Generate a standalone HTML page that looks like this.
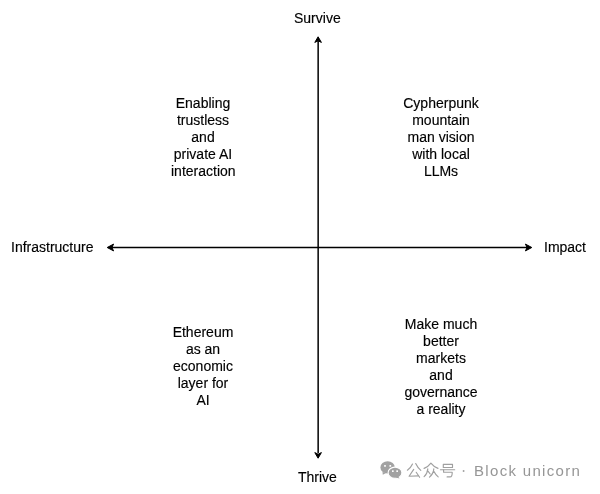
<!DOCTYPE html>
<html><head><meta charset="utf-8">
<style>
html,body{margin:0;padding:0;background:#fff;width:600px;height:494px;overflow:hidden;}
body{position:relative;font-family:"Liberation Sans",sans-serif;font-size:14px;color:#000;}
.t{position:absolute;will-change:transform;-webkit-text-stroke:0.15px currentColor;white-space:nowrap;line-height:17px;text-align:center;}
svg{position:absolute;left:0;top:0;}
</style></head><body>
<svg width="600" height="494" viewBox="0 0 600 494">
  <g stroke="#000" stroke-width="1.5" fill="none">
    <line x1="318.15" y1="41" x2="318.15" y2="453"/>
    <line x1="112" y1="247.5" x2="527" y2="247.5"/>
  </g>
  <g fill="#000" stroke="#000" stroke-width="1" stroke-linejoin="miter">
    <path d="M318.1 36.8 L321.4 42.4 L318.1 40.8 L314.8 42.4 Z"/>
    <path d="M318.1 458.2 L321.4 452.6 L318.1 454.2 L314.8 452.6 Z"/>
    <path d="M107.2 247.5 L113.6 244.1 L111.9 247.5 L113.6 250.9 Z"/>
    <path d="M531.8 247.5 L525.4 244.1 L527.1 247.5 L525.4 250.9 Z"/>
  </g>
</svg>
<div class="t" style="left:294px;top:10px;">Survive</div>
<div class="t" style="left:298px;top:469px;">Thrive</div>
<div class="t" style="left:11px;top:239px;">Infrastructure</div>
<div class="t" style="left:543.6px;top:239px;">Impact</div>
<div class="t" style="left:171px;top:95.3px;width:64px;">Enabling<br>trustless<br>and<br>private AI<br>interaction</div>
<div class="t" style="left:401px;top:95.3px;width:80px;">Cypherpunk<br>mountain<br>man vision<br>with local<br>LLMs</div>
<div class="t" style="left:170px;top:324.3px;width:66px;">Ethereum<br>as an<br>economic<br>layer for<br>AI</div>
<div class="t" style="left:404px;top:316.2px;width:74px;">Make much<br>better<br>markets<br>and<br>governance<br>a reality</div>
<svg width="600" height="494" viewBox="0 0 600 494">
  <g fill="#a2a2a2">
    <ellipse cx="387.6" cy="467.4" rx="7.2" ry="6.2"/>
    <path d="M382.5 472 L382.8 474.8 L386.5 472.8 Z"/>
    <ellipse cx="395" cy="472.7" rx="6.9" ry="5.6" stroke="#fff" stroke-width="1.1"/>
    <path d="M398 476.5 L399.6 478.6 L395.5 477.4 Z"/>
  </g>
  <g fill="#fff">
    <rect x="384.1" y="465" width="1.8" height="1.7" rx="0.5"/><rect x="389.4" y="465" width="1.8" height="1.7" rx="0.5"/>
    <rect x="392" y="470.3" width="1.7" height="1.6" rx="0.5"/><rect x="396.3" y="470.3" width="1.7" height="1.6" rx="0.5"/>
  </g>
  <g stroke="#a0a0a0" stroke-width="1.15" fill="none" stroke-linecap="round" stroke-linejoin="round">
    <path d="M412.5 464.1 Q411 467.6 407.4 470.2"/>
    <path d="M415.7 463.6 Q417.5 467.5 420.8 470.4"/>
    <path d="M413.7 469.4 L409.1 476.2 L418.1 475.9"/>
    <path d="M416.2 472.3 L419.6 477.3"/>
    <path d="M424.1 468.4 Q428.5 466.5 430.9 463.1 Q433.5 466.5 438 468.4"/>
    <path d="M427.8 468.9 Q427.5 473.5 424.1 476.7 M428 471.1 L430.2 474"/>
    <path d="M433.8 468.9 Q433.5 473.5 429.5 477.2 M434 471.6 Q435.5 474.8 438.2 476.9"/>
    <rect x="443.3" y="464.3" width="9.2" height="3.2"/>
    <path d="M440.4 469.7 L454.7 469.7"/>
    <path d="M443.6 469.7 L443.6 472.2 L452.2 472.2 Q452.4 476.8 450 476.9 L447.1 476.9"/>
  </g>
  <circle cx="463.6" cy="471" r="0.95" fill="#a0a0a0"/>
</svg>
<div class="t" style="left:474.2px;top:461.7px;font-size:15px;letter-spacing:1.32px;color:#969696;-webkit-text-stroke:0;">Block unicorn</div>
</body></html>
